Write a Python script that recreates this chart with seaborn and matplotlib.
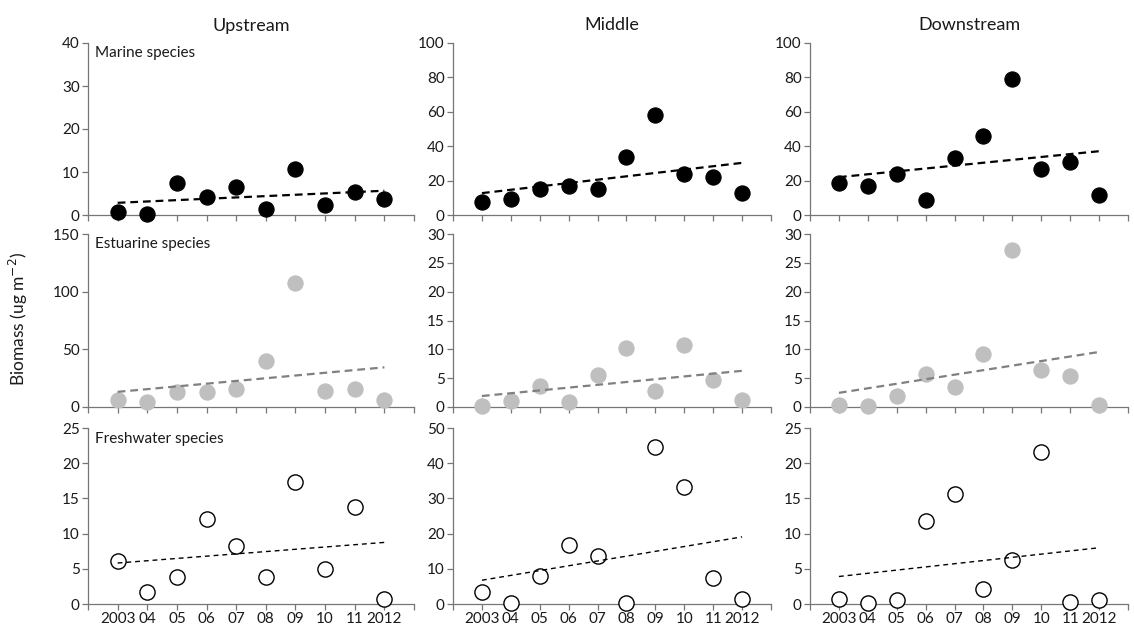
import numpy as np
import pandas as pd
import matplotlib
matplotlib.use("Agg")
import matplotlib.pyplot as plt
import seaborn as sns

# --- Data ---
years = [2003, 2004, 2005, 2006, 2007, 2008, 2009, 2010, 2011, 2012]
year_labels = ["2003", "04", "05", "06", "07", "08", "09", "10", "11", "2012"]
sites = ["Upstream", "Middle", "Downstream"]
groups = ["Marine species", "Estuarine species", "Freshwater species"]

marine_up = [0.7, 0.2, 7.4, 4.3, 6.4, 1.4, 10.7, 2.3, 5.3, 3.7]
marine_mid = [7.4, 9.4, 15.2, 17.0, 15.4, 33.7, 58.3, 23.8, 22.2, 12.7]
marine_down = [18.7, 17.0, 23.6, 8.8, 32.9, 45.8, 78.9, 26.9, 31.0, 11.9]

estuarine_up = [6.4, 4.7, 13.4, 13.1, 16.0, 40.0, 107.4, 14.2, 16.0, 6.4]
estuarine_mid = [0.1, 1.1, 3.7, 0.9, 5.5, 10.3, 2.7, 10.8, 4.6, 1.2]
estuarine_down = [0.3, 0.1, 1.9, 5.7, 3.5, 9.2, 27.2, 6.4, 5.3, 0.4]

freshwater_up = [6.1, 1.7, 3.9, 12.1, 8.2, 3.9, 17.4, 5.0, 13.8, 0.75]
freshwater_mid = [3.5, 0.3, 8.0, 16.8, 13.7, 0.3, 44.6, 33.3, 7.3, 1.3]
freshwater_down = [0.66, 0.1, 0.6, 11.8, 15.6, 2.1, 6.2, 21.6, 0.33, 0.5]

# y-axis limits / steps per panel (row = group, col = site)
y_max = [[40, 100, 100], [150, 30, 30], [25, 50, 25]]
y_step = [[10, 20, 20], [50, 5, 5], [5, 10, 5]]

values = {
    ("Marine species", "Upstream"): marine_up,
    ("Marine species", "Middle"): marine_mid,
    ("Marine species", "Downstream"): marine_down,
    ("Estuarine species", "Upstream"): estuarine_up,
    ("Estuarine species", "Middle"): estuarine_mid,
    ("Estuarine species", "Downstream"): estuarine_down,
    ("Freshwater species", "Upstream"): freshwater_up,
    ("Freshwater species", "Middle"): freshwater_mid,
    ("Freshwater species", "Downstream"): freshwater_down,
}

rows = []
for (grp, site), vals in values.items():
    for yr, v in zip(years, vals):
        rows.append({"group": grp, "site": site, "year": yr, "biomass": v})
df = pd.DataFrame(rows)

# --- Styling ---
sns.set_style("ticks")
plt.rcParams["font.family"] = ["Lato", "DejaVu Sans"]
plt.rcParams["axes.edgecolor"] = "#767676"
plt.rcParams["xtick.color"] = "#767676"
plt.rcParams["ytick.color"] = "#767676"
plt.rcParams["xtick.labelcolor"] = "#1a1a1a"
plt.rcParams["ytick.labelcolor"] = "#1a1a1a"

marker_styles = [
    dict(color="black", edgecolor="black", linewidth=0.8, s=120),
    dict(color="#bfbfbf", edgecolor="#bfbfbf", linewidth=0.8, s=120),
    dict(color="white", edgecolor="black", linewidth=1.0, s=120),
]
line_styles = [
    dict(color="black", linewidth=1.6, linestyle=(0, (3.5, 2.2))),
    dict(color="#808080", linewidth=1.6, linestyle=(0, (3.5, 2.2))),
    dict(color="black", linewidth=1.0, linestyle=(0, (3.5, 2.8))),
]

W, H = 1134, 626
lefts = [88, 453, 810]
widths = [326, 318, 318]
tops = [43, 234, 428]
bottoms = [215, 407, 604]

fig = plt.figure(figsize=(W / 100, H / 100), dpi=100)

for r, grp in enumerate(groups):
    for c, site in enumerate(sites):
        ax = fig.add_axes([lefts[c] / W, 1 - bottoms[r] / H,
                           widths[c] / W, (bottoms[r] - tops[r]) / H])
        sub = df[(df["group"] == grp) & (df["site"] == site)]
        sns.scatterplot(data=sub, x="year", y="biomass", ax=ax, zorder=3,
                        legend=False, **marker_styles[r])
        sns.regplot(data=sub, x="year", y="biomass", ax=ax, scatter=False,
                    ci=None, truncate=True, line_kws=dict(zorder=4, **line_styles[r]))

        ax.set_xlim(2002, 2013)
        ax.set_ylim(0, y_max[r][c])
        ax.set_yticks(np.arange(0, y_max[r][c] + 0.1, y_step[r][c]))
        ax.set_xticks(range(2002, 2014))
        if r == 2:
            ax.set_xticklabels([""] + year_labels + [""])
        else:
            ax.set_xticklabels([])
        ax.tick_params(axis="both", direction="out", length=4, width=0.9,
                       labelsize=11, pad=2)
        ax.set_xlabel("")
        ax.set_ylabel("")
        sns.despine(ax=ax)
        for sp in ("left", "bottom"):
            ax.spines[sp].set_linewidth(0.9)
        for coll in ax.collections:
            coll.set_clip_on(False)

        if r == 0:
            ax.set_title(site, fontsize=13, pad=9, color="#1a1a1a")
        if c == 0:
            ax.text(0.02, 0.98, grp, transform=ax.transAxes, ha="left", va="top",
                    fontsize=11, color="#1a1a1a")

fig.text(0.016, 0.49, "Biomass (ug m$^{-2}$)", rotation=90, ha="center",
         va="center", fontsize=12.5, color="#1a1a1a")

fig.savefig("out.png", dpi=100)
